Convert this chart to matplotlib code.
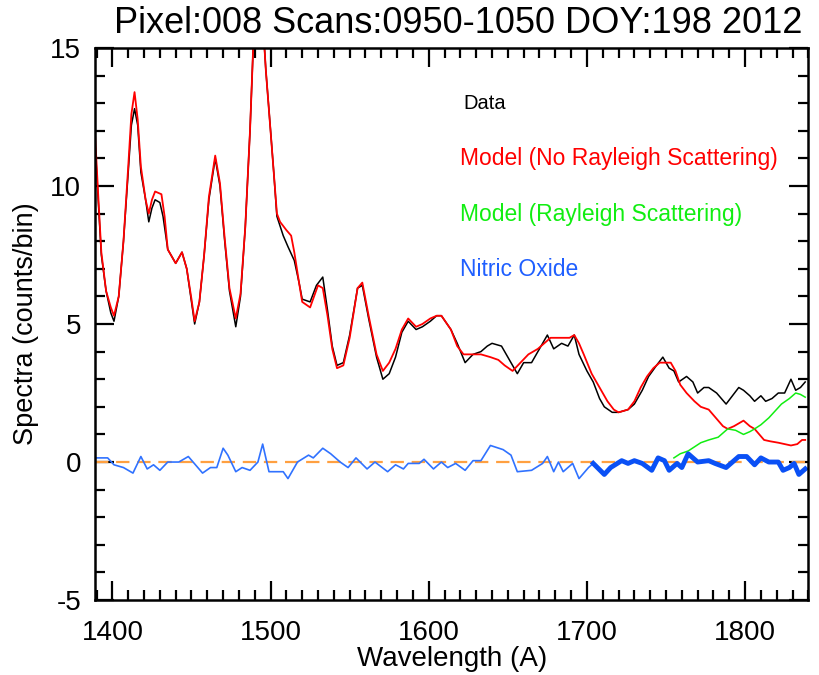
import numpy as np
import matplotlib
matplotlib.use('Agg')
import matplotlib.pyplot as plt
from matplotlib.ticker import MultipleLocator

plt.rcParams['font.family'] = ['Liberation Sans', 'DejaVu Sans']
plt.rcParams['axes.unicode_minus'] = False

# measured spectrum (black)
data_wl = [1389, 1391, 1393, 1396, 1399, 1401, 1404, 1407, 1410, 1412, 1414, 1416, 1418, 1421,
           1423, 1425, 1427, 1430, 1432, 1435, 1440, 1444, 1447, 1450, 1452, 1455, 1458, 1461,
           1465, 1468, 1471, 1474, 1478, 1481, 1484, 1487, 1489, 1491, 1494, 1497, 1500, 1502,
           1504, 1508, 1511, 1515, 1518, 1520, 1525, 1529, 1533, 1536, 1539, 1542, 1546, 1550,
           1555, 1558, 1562, 1567, 1571, 1575, 1579, 1583, 1587, 1592, 1596, 1601, 1605, 1608,
           1614, 1618, 1623, 1628, 1633, 1637, 1640, 1646, 1651, 1656, 1660, 1665, 1670, 1675,
           1679, 1684, 1688, 1692, 1695, 1700, 1704, 1708, 1711, 1716, 1720, 1726, 1730, 1735,
           1739, 1744, 1748, 1752, 1755, 1758, 1763, 1767, 1770, 1774, 1777, 1782, 1788, 1792,
           1796, 1799, 1803, 1806, 1810, 1813, 1817, 1821, 1825, 1829, 1832, 1835, 1838]
data_ct = [11.6, 9.5, 7.5, 6.2, 5.4, 5.1, 6.0, 8.0, 10.5, 12.2, 12.8, 12.2, 10.5, 9.5,
           8.7, 9.2, 9.5, 9.4, 8.9, 7.7, 7.2, 7.6, 7.0, 5.8, 5.0, 5.8, 7.5, 9.5,
           11.0, 10.0, 8.0, 6.2, 4.9, 6.0, 8.5, 12.0, 15.0, 17.0, 17.0, 14.2, 12.0, 10.5,
           8.9, 8.2, 7.8, 7.3, 6.5, 5.9, 5.8, 6.4, 6.7, 5.5, 4.2, 3.5, 3.6, 4.6,
           6.3, 6.4, 5.2, 3.8, 3.0, 3.2, 3.8, 4.7, 5.1, 4.8, 4.9, 5.1, 5.3, 5.3,
           4.8, 4.3, 3.6, 3.9, 4.0, 4.2, 4.3, 4.2, 3.7, 3.2, 3.6, 3.6, 4.1, 4.6,
           4.1, 4.3, 4.2, 4.6, 3.9, 3.3, 2.9, 2.3, 2.0, 1.8, 1.8, 1.9, 2.1, 2.6,
           3.1, 3.5, 3.8, 3.4, 3.3, 2.9, 3.1, 2.9, 2.5, 2.7, 2.7, 2.5, 2.1, 2.4,
           2.7, 2.6, 2.4, 2.2, 2.4, 2.2, 2.3, 2.5, 2.5, 3.0, 2.6, 2.7, 2.9]

# model without Rayleigh scattering (red)
mod_wl = [1389, 1391, 1393, 1396, 1399, 1401, 1404, 1407, 1410, 1412, 1414, 1416, 1418, 1421,
          1423, 1425, 1427, 1431, 1433, 1435, 1440, 1444, 1447, 1450, 1452, 1455, 1458, 1461,
          1465, 1468, 1471, 1474, 1478, 1481, 1484, 1487, 1489, 1491, 1494, 1497, 1500, 1502,
          1504, 1506, 1510, 1513, 1515, 1518, 1520, 1525, 1530, 1533, 1536, 1539, 1542, 1546,
          1550, 1555, 1558, 1562, 1567, 1571, 1575, 1579, 1583, 1587, 1592, 1596, 1601, 1605,
          1608, 1614, 1618, 1622, 1627, 1633, 1639, 1644, 1648, 1653, 1658, 1663, 1669, 1673,
          1677, 1681, 1685, 1689, 1692, 1695, 1698, 1703, 1708, 1713, 1717, 1720, 1726, 1730,
          1734, 1738, 1742, 1746, 1749, 1753, 1756, 1759, 1763, 1768, 1772, 1777, 1780, 1783,
          1786, 1789, 1793, 1796, 1799, 1803, 1806, 1809, 1812, 1816, 1821, 1825, 1829, 1833,
          1836, 1838]
mod_ct = [11.9, 9.7, 7.6, 6.2, 5.6, 5.3, 6.0, 8.0, 10.7, 12.6, 13.4, 12.4, 10.7, 9.5,
          9.0, 9.5, 9.8, 9.7, 8.9, 7.7, 7.2, 7.6, 7.0, 5.9, 5.1, 5.8, 7.5, 9.6,
          11.1, 10.1, 8.1, 6.3, 5.2, 6.1, 8.5, 12.0, 15.0, 17.0, 17.0, 14.2, 12.0, 10.5,
          9.0, 8.7, 8.4, 8.2, 7.6, 6.5, 5.8, 5.6, 6.4, 6.3, 5.3, 4.1, 3.4, 3.5,
          4.5, 6.3, 6.5, 5.3, 3.9, 3.3, 3.6, 4.1, 4.8, 5.2, 4.9, 5.0, 5.2, 5.3,
          5.3, 4.8, 4.2, 3.9, 3.9, 3.9, 3.8, 3.7, 3.5, 3.3, 3.6, 3.9, 4.1, 4.3,
          4.5, 4.5, 4.5, 4.5, 4.6, 4.3, 3.9, 3.2, 2.7, 2.2, 1.9, 1.8, 1.9, 2.2,
          2.7, 3.1, 3.4, 3.6, 3.6, 3.6, 3.3, 2.8, 2.5, 2.2, 2.0, 1.9, 1.7, 1.5,
          1.3, 1.2, 1.3, 1.4, 1.5, 1.3, 1.2, 1.0, 0.8, 0.75, 0.7, 0.65, 0.6, 0.65,
          0.8, 0.8]

# model with Rayleigh scattering (green)
ray_wl = [1755, 1759, 1764, 1768, 1772, 1777, 1783, 1786, 1789, 1794, 1799, 1803, 1806, 1810,
          1815, 1819, 1823, 1828, 1832, 1835, 1838]
ray_ct = [0.15, 0.3, 0.4, 0.55, 0.7, 0.8, 0.9, 1.05, 1.2, 1.15, 1.0, 1.1, 1.2, 1.35,
          1.6, 1.85, 2.1, 2.3, 2.5, 2.45, 2.35]

# nitric oxide residual (blue)
no_wl = [1389, 1397, 1401, 1407, 1413, 1418, 1422, 1426, 1430, 1435, 1442, 1448, 1457, 1462,
         1466, 1470, 1473, 1478, 1482, 1487, 1492, 1495, 1499, 1508, 1511, 1517, 1524, 1527,
         1533, 1538, 1544, 1549, 1554, 1561, 1566, 1574, 1579, 1584, 1587, 1594, 1597, 1603,
         1608, 1612, 1617, 1623, 1628, 1633, 1639, 1647, 1652, 1656, 1665, 1672, 1675, 1679,
         1682, 1685, 1691, 1695, 1701, 1704]
no_ct = [0.15, 0.15, -0.1, -0.2, -0.4, 0.2, -0.25, -0.1, -0.3, 0.0, 0.0, 0.2, -0.4, -0.2,
         -0.2, 0.5, 0.25, -0.35, -0.2, -0.3, 0.0, 0.65, -0.35, -0.35, -0.6, 0.0, 0.25, 0.15,
         0.5, 0.3, 0.0, -0.2, 0.15, -0.25, 0.0, -0.35, -0.1, -0.25, -0.05, -0.05, 0.1, -0.25,
         0.0, -0.2, -0.05, -0.3, 0.05, 0.05, 0.6, 0.45, 0.25, -0.35, -0.3, -0.05, 0.2, -0.35,
         0.0, -0.35, -0.05, -0.6, -0.2, -0.05]
no_fit_wl = [1704, 1711, 1715, 1722, 1726, 1730, 1735, 1741, 1745, 1749, 1752, 1757, 1760, 1764,
             1770, 1777, 1781, 1788, 1796, 1801, 1806, 1810, 1815, 1821, 1824, 1828, 1831, 1834,
             1838]
no_fit_ct = [-0.05, -0.45, -0.2, 0.05, -0.05, 0.05, -0.05, -0.3, 0.15, 0.05, -0.3, -0.05, -0.2, 0.3,
             0.0, 0.05, -0.05, -0.2, 0.2, 0.2, -0.1, 0.15, 0.0, 0.0, -0.3, -0.2, -0.05, -0.45,
             -0.25]

fig = plt.figure(figsize=(8.19, 6.75), dpi=100)
ax = fig.add_axes([0.116, 0.111, 0.871, 0.818])

ax.plot([data_wl[0], data_wl[-1]], [0, 0], color='#ffa040', lw=1.6, dashes=(6, 3.5))
ax.plot(data_wl, data_ct, color='black', lw=1.1)
ax.plot(mod_wl, mod_ct, color='red', lw=1.3)
ax.plot(ray_wl, ray_ct, color='#11ee11', lw=1.1)
ax.plot(no_wl, no_ct, color='#3072ff', lw=1.2)
ax.plot(no_fit_wl, no_fit_ct, color='#0a50f5', lw=3.5)

ax.set_xlim(1389, 1840)
ax.set_ylim(-5, 15)
ax.xaxis.set_major_locator(MultipleLocator(100))
ax.xaxis.set_minor_locator(MultipleLocator(10))
ax.yaxis.set_major_locator(MultipleLocator(5))
ax.yaxis.set_minor_locator(MultipleLocator(1))
ax.tick_params(which='both', direction='in', top=True, right=True, width=1.6, labelsize=20)
ax.tick_params(axis='x', which='major', pad=14)
ax.tick_params(axis='y', which='major', pad=10)
ax.tick_params(which='major', length=14)
ax.tick_params(which='minor', length=7)
for s in ax.spines.values():
    s.set_linewidth(1.8)

ax.set_xlabel('Wavelength (A)', fontsize=20, labelpad=0)
ax.set_ylabel('Spectra (counts/bin)', fontsize=19.5, labelpad=8)
ax.set_title('Pixel:008 Scans:0950-1050 DOY:198 2012', fontsize=26, pad=11, x=0.509)

ax.text(1622, 13.0, 'Data', color='black', fontsize=14.5, va='center')
ax.text(1620, 11.0, 'Model (No Rayleigh Scattering)', color='red', fontsize=16.5, va='center')
ax.text(1620, 8.95, 'Model (Rayleigh Scattering)', color='#11ee11', fontsize=16.5, va='center')
ax.text(1620, 6.96, 'Nitric Oxide', color='#1f5fff', fontsize=16.5, va='center')

fig.savefig('out.png', dpi=100)
